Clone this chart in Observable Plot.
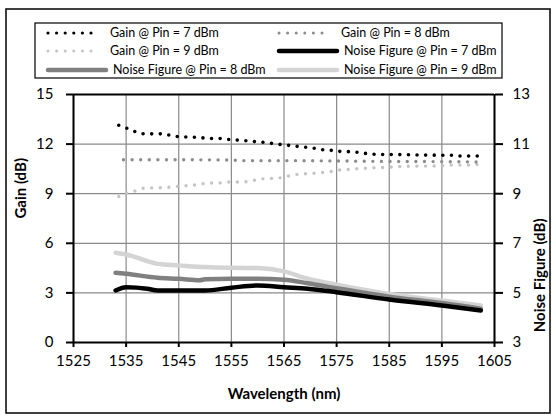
<!DOCTYPE html>
<html>
<head>
<meta charset="utf-8">
<script src="https://cdn.jsdelivr.net/npm/d3@7"></script>
<script src="https://cdn.jsdelivr.net/npm/@observablehq/plot@0.6"></script>
<style>
  html, body { margin: 0; padding: 0; background: #fff; }
</style>
</head>
<body>
<div id="chart"></div>
<script>
// ---- data ----
const xTicks = [1525, 1535, 1545, 1555, 1565, 1575, 1585, 1595, 1605];
const gainTicks = [0, 3, 6, 9, 12, 15];
const nfTickLabels = [3, 5, 7, 9, 11, 13];

// Gain @ Pin = 7 dBm
const g7wl = [1533.6,1535.3,1537,1538.6,1542,1543.7,1545.6,1548.9,1550.8,1552.6,1554.3,1556.2,1558,1559.7,1561.4,1563.2,1564.9,1566.5,1568.8,1570.5,1572.2,1574,1575.7,1577.4,1579.1,1580.9,1582.6,1588,1591,1597,1598.5,1602];
const g7 = [13.14,12.94,12.72,12.62,12.62,12.5,12.44,12.4,12.34,12.34,12.28,12.24,12.2,12.14,12.1,12.02,11.96,11.9,11.82,11.76,11.66,11.62,11.56,11.54,11.5,11.42,11.38,11.36,11.34,11.32,11.28,11.28];
// Gain @ Pin = 8 dBm
const g8wl = [1534.5,1545,1555,1557,1566,1575,1585,1595,1602];
const g8 = [11.05,11.05,11.04,11.0,11.0,10.98,10.95,10.94,10.92];
// Gain @ Pin = 9 dBm
const g9wl = [1533.6,1535.3,1537,1538.6,1540.3,1542,1543.7,1545.6,1547.2,1548.9,1550.8,1552.6,1554.3,1556.2,1558,1559.7,1561.4,1563.2,1564.9,1566.5,1568.5,1570.2,1572,1573.7,1575.6,1577.3,1579,1580.8,1584.2,1586,1587.8,1594.7,1596.5,1600.1,1602];
const g9 = [8.83,9.07,9.19,9.35,9.35,9.37,9.41,9.47,9.49,9.57,9.65,9.65,9.71,9.71,9.73,9.83,9.91,9.93,9.99,10.13,10.19,10.23,10.27,10.33,10.43,10.47,10.51,10.55,10.59,10.63,10.65,10.69,10.73,10.73,10.77];
// Noise Figure (dB, right axis)
const nf7wl = [1533,1535,1539,1541,1545,1550,1555,1560,1565,1569.5,1575,1585,1595,1602.4];
const nf7 = [5.10,5.23,5.17,5.10,5.10,5.10,5.21,5.30,5.23,5.17,5.03,4.73,4.49,4.29];
const nf8wl = [1533,1535,1541,1545,1549,1550,1555,1560,1565,1569.5,1575,1585,1595,1602.4];
const nf8 = [5.81,5.77,5.61,5.57,5.51,5.55,5.57,5.57,5.53,5.39,5.19,4.85,4.59,4.36];
const nf9wl = [1533,1535,1541,1545,1550,1555,1560,1565,1569.5,1575,1585,1595,1602.4];
const nf9 = [6.62,6.55,6.17,6.11,6.04,6.01,6.00,5.87,5.57,5.33,4.96,4.69,4.49];

const seriesNames = [
  "Gain @ Pin = 7 dBm", "Gain @ Pin = 8 dBm", "Gain @ Pin = 9 dBm",
  "Noise Figure @ Pin = 7 dBm", "Noise Figure @ Pin = 8 dBm", "Noise Figure @ Pin = 9 dBm"
];

// right-axis (NF) -> left-axis (gain) mapping: NF 3..13 <-> gain 0..15
const nfToGain = v => (v - 3) * 1.5;

const pairs = (xs, ys) => xs.map((x, i) => ({x, y: ys[i]}));
const G7 = pairs(g7wl, g7), G8 = pairs(g8wl, g8), G9 = pairs(g9wl, g9);
const N7 = pairs(nf7wl, nf7).map(d => ({x: d.x, y: nfToGain(d.y)}));
const N8 = pairs(nf8wl, nf8).map(d => ({x: d.x, y: nfToGain(d.y)}));
const N9 = pairs(nf9wl, nf9).map(d => ({x: d.x, y: nfToGain(d.y)}));

const FONT = "Lato, 'Open Sans', sans-serif";
const dotted = (data, color, w) => Plot.line(data, {x: "x", y: "y", stroke: color, strokeWidth: w, strokeDasharray: "0 8.6", strokeLinecap: "round", curve: "monotone-x"});
const solid = (data, color, w) => Plot.line(data, {x: "x", y: "y", stroke: color, strokeWidth: w, strokeLinecap: "round", curve: "monotone-x"});

const chart = Plot.plot({
  width: 556,
  height: 417,
  marginLeft: 73,
  marginRight: 62,
  marginTop: 94,
  marginBottom: 75,
  style: {fontFamily: FONT, fontSize: "15px", background: "#fff", color: "#000"},
  x: {domain: [1525, 1605]},
  y: {domain: [0, 15]},
  marks: [
    Plot.gridX(xTicks, {stroke: "#8a8a8a", strokeOpacity: 1, strokeWidth: 1.2}),
    Plot.gridY(gainTicks, {stroke: "#8a8a8a", strokeOpacity: 1, strokeWidth: 1.2}),
    solid(N9, "#d4d4d4", 4.5),
    solid(N8, "#808080", 4.5),
    solid(N7, "#000", 4.5),
    dotted(G9, "#c4c4c4", 3.4),
    dotted(G8, "#8c8c8c", 3.4),
    dotted(G7, "#000", 3.6),
    Plot.ruleX([1525, 1605], {stroke: "#000", strokeWidth: 2}),
    Plot.ruleY([0, 15], {stroke: "#000", strokeWidth: 2}),
    Plot.axisX(xTicks, {anchor: "bottom", tickSize: 5, tickPadding: 8, label: null, stroke: "#000", strokeWidth: 2,
      tickFormat: d => String(d)}),
    Plot.axisY(gainTicks, {anchor: "left", tickSize: 7, tickPadding: 13, label: null, stroke: "#000", strokeWidth: 2,
      tickFormat: d => String(d)}),
    Plot.axisY(gainTicks, {anchor: "right", tickSize: 8, tickPadding: 10, label: null, stroke: "#000", strokeWidth: 2,
      tickFormat: (d, i) => String(nfTickLabels[i])}),
    Plot.text(["Gain (dB)"], {frameAnchor: "left", dx: -52, rotate: -90, fontWeight: "bold", fontSize: 15}),
    Plot.text(["Noise Figure (dB)"], {frameAnchor: "right", dx: 46, rotate: -90, fontWeight: "bold", fontSize: 15}),
    Plot.text(["Wavelength (nm)"], {frameAnchor: "bottom", dy: 56, fontWeight: "bold", fontSize: 15})
  ]
});

document.getElementById("chart").appendChild(chart);

// ---- outer border and legend ----
const svg = d3.select(chart);
svg.append("rect").attr("x", 6).attr("y", 9).attr("width", 544).attr("height", 404)
  .attr("fill", "none").attr("stroke", "#000").attr("stroke-width", 1.5);

const lg = svg.append("g").attr("font-family", FONT).attr("font-size", 12.5).attr("text-anchor", "start");
lg.append("rect").attr("x", 35).attr("y", 23).attr("width", 467).attr("height", 55)
  .attr("fill", "#fff").attr("stroke", "#000").attr("stroke-width", 1.2);

const legendItems = [
  {name: seriesNames[0], col: 0, row: 0, color: "#000", dot: true, w: 3.2},
  {name: seriesNames[1], col: 1, row: 0, color: "#8c8c8c", dot: true, w: 3},
  {name: seriesNames[2], col: 0, row: 1, color: "#c4c4c4", dot: true, w: 3},
  {name: seriesNames[3], col: 1, row: 1, color: "#000", dot: false, w: 4.5},
  {name: seriesNames[4], col: 0, row: 2, color: "#808080", dot: false, w: 4.5},
  {name: seriesNames[5], col: 1, row: 2, color: "#d4d4d4", dot: false, w: 4.5}
];
const colX = [46, 277];
const rowY = [33, 51, 70];
for (const it of legendItems) {
  const x0 = colX[it.col], y0 = rowY[it.row];
  const len = it.dot ? 52 : 60;
  const ln = lg.append("line").attr("x1", x0 + 2).attr("x2", x0 + len).attr("y1", y0).attr("y2", y0)
    .attr("stroke", it.color).attr("stroke-width", it.w).attr("stroke-linecap", "round");
  if (it.dot) ln.attr("stroke-dasharray", "0 8.6");
  lg.append("text").attr("x", x0 + (it.dot ? 64 : 67)).attr("y", y0).attr("dy", "0.35em")
    .attr("text-anchor", "start").text(it.name);
}
</script>
</body>
</html>
